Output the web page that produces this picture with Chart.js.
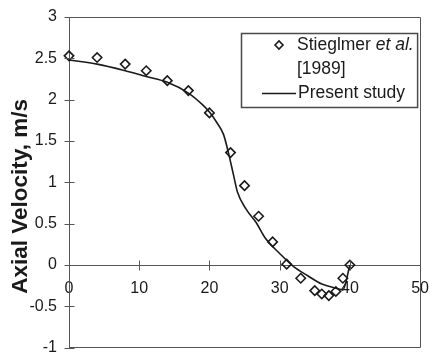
<!DOCTYPE html>
<html>
<head>
<meta charset="utf-8">
<script src="https://cdn.jsdelivr.net/npm/chart.js@4/dist/chart.umd.min.js"></script>
<style>
  html, body { margin: 0; padding: 0; background: #ffffff; }
  #wrap { width: 443px; height: 354px; }
</style>
</head>
<body>
<div id="wrap"><canvas id="chart" width="443" height="354"></canvas></div>
<script>
// Radial position and measured axial velocity (m/s)
const measuredX   = [0, 4, 8, 11, 14, 17, 20, 23, 25, 27, 29, 31, 33, 35, 36, 37, 38, 39, 40];
const measuredVel = [2.53, 2.51, 2.43, 2.35, 2.23, 2.11, 1.84, 1.36, 0.96, 0.59, 0.28, 0.01, -0.16, -0.31, -0.35, -0.37, -0.32, -0.16, 0.0];

// Computed axial velocity profile
const modelX   = [0, 4, 8, 11, 14, 17, 19, 20, 21, 22, 22.7, 23.4, 24, 25.2, 26.6, 28, 30, 32, 34, 36, 38, 39, 40];
const modelVel = [2.48, 2.43, 2.35, 2.28, 2.21, 2.08, 1.94, 1.85, 1.73, 1.58, 1.36, 1.10, 0.88, 0.68, 0.52, 0.32, 0.14, -0.02, -0.13, -0.23, -0.28, -0.30, 0.0];

// Axis ticks and labels
const xTicks = [0, 10, 20, 30, 40, 50];
const yTicks = [-1, -0.5, 0, 0.5, 1, 1.5, 2, 2.5, 3];
const yTitle = 'Axial Velocity, m/s';
const seriesNames = ['Stieglmer et al. [1989]', 'Present study'];

const FONT = '"Liberation Sans", Arial, Helvetica, sans-serif';
const INK = '#1a1a1a';
const AXIS = '#555555';

// Plot frame plus tick marks that cross both axes
const frameAndTicks = {
  id: 'frameAndTicks',
  afterDatasetsDraw(chart) {
    const { ctx, chartArea: a, scales: { x, y } } = chart;
    ctx.save();
    ctx.strokeStyle = AXIS;
    ctx.lineWidth = 1;
    const L = Math.round(a.left) + 0.5, R = Math.round(a.right) + 0.5;
    const T = Math.round(a.top) + 0.5, B = Math.round(a.bottom) - 0.5;
    ctx.beginPath();
    ctx.moveTo(L, T); ctx.lineTo(R, T); ctx.lineTo(R, B); ctx.lineTo(L, B);
    // y ticks
    yTicks.forEach(v => {
      const py = Math.round(y.getPixelForValue(v)) + 0.5;
      ctx.moveTo(L - 5, py); ctx.lineTo(L + 5, py);
    });
    // x ticks across the zero line
    const y0 = Math.round(y.getPixelForValue(0)) + 0.5;
    xTicks.forEach(v => {
      const px = Math.round(x.getPixelForValue(v)) + 0.5;
      ctx.moveTo(px, y0 - 5); ctx.lineTo(px, y0 + 5);
    });
    ctx.stroke();
    ctx.restore();
  }
};

// Rotated y-axis title
const axisTitle = {
  id: 'axisTitle',
  afterDraw(chart) {
    const { ctx, scales: { y } } = chart;
    ctx.save();
    ctx.font = 'bold 22.5px ' + FONT;
    ctx.fillStyle = INK;
    ctx.textAlign = 'center';
    ctx.textBaseline = 'alphabetic';
    ctx.translate(27, y.getPixelForValue(0.83));
    ctx.rotate(-Math.PI / 2);
    ctx.fillText(yTitle, 0, 0);
    ctx.restore();
  }
};

// Boxed legend with a two-line entry and italic "et al."
const boxLegend = {
  id: 'boxLegend',
  afterDraw(chart) {
    const { ctx, chartArea: a } = chart;
    const right = a.right - 2.5, left = 241.5, top = 33.5, bottom = 107.5;
    ctx.save();
    ctx.fillStyle = '#ffffff';
    ctx.fillRect(left, top, right - left, bottom - top);
    ctx.strokeStyle = '#4a4a4a';
    ctx.lineWidth = 1.5;
    ctx.strokeRect(left, top, right - left, bottom - top);

    const textX = 297;
    const rows = [45, 69, 93];
    const size = 17.5;
    ctx.fillStyle = INK;
    ctx.textBaseline = 'middle';
    ctx.textAlign = 'left';

    // marker for the measured series
    const mx = 279, my = rows[0], r = 4;
    ctx.strokeStyle = INK;
    ctx.lineWidth = 1.6;
    ctx.beginPath();
    ctx.moveTo(mx - r, my); ctx.lineTo(mx, my - r); ctx.lineTo(mx + r, my); ctx.lineTo(mx, my + r);
    ctx.closePath();
    ctx.stroke();

    const nameParts = seriesNames[0].split(' ');       // Stieglmer, et, al., [1989]
    ctx.font = size + 'px ' + FONT;
    const first = nameParts[0] + ' ';
    ctx.fillText(first, textX, my);
    const w = ctx.measureText(first).width;
    ctx.font = 'italic ' + size + 'px ' + FONT;
    ctx.fillText(nameParts[1] + ' ' + nameParts[2], textX + w, my);
    ctx.font = size + 'px ' + FONT;
    ctx.fillText(nameParts[3], textX, rows[1]);

    // line sample for the computed profile
    ctx.lineWidth = 1.6;
    ctx.beginPath();
    ctx.moveTo(262, rows[2] + 0.5); ctx.lineTo(296, rows[2] + 0.5);
    ctx.stroke();
    ctx.fillText(seriesNames[1], textX + 1, rows[2]);
    ctx.restore();
  }
};

const tickFont = { family: FONT, size: 16 };

new Chart(document.getElementById('chart'), {
  type: 'scatter',
  data: {
    datasets: [
      {
        label: seriesNames[1],
        data: modelX.map((x, i) => ({ x, y: modelVel[i] })),
        showLine: true,
        borderColor: INK,
        borderWidth: 1.6,
        pointRadius: 0,
        cubicInterpolationMode: 'monotone',
        fill: false,
        clip: false
      },
      {
        label: seriesNames[0],
        data: measuredX.map((x, i) => ({ x, y: measuredVel[i] })),
        showLine: false,
        pointStyle: 'rectRot',
        pointRadius: 4.7,
        pointBorderWidth: 1.6,
        pointBorderColor: INK,
        pointBackgroundColor: 'rgba(255,255,255,0)',
        clip: false
      }
    ]
  },
  options: {
    responsive: false,
    animation: false,
    devicePixelRatio: 1,
    layout: { padding: { left: 0, top: 17, right: 8, bottom: 5 } },
    plugins: { legend: { display: false }, tooltip: { enabled: false } },
    scales: {
      x: {
        type: 'linear',
        position: { y: 0 },
        min: 0, max: 50,
        afterBuildTicks: s => { s.ticks = xTicks.map(v => ({ value: v })); },
        afterFit: s => { s.height = 0; },
        grid: { display: false, drawTicks: false },
        border: { display: true, color: AXIS, width: 1 },
        ticks: { font: tickFont, color: INK, padding: 14, maxRotation: 0, autoSkip: false, callback: v => String(v) }
      },
      y: {
        type: 'linear',
        position: 'left',
        min: -1, max: 3,
        afterBuildTicks: s => { s.ticks = yTicks.map(v => ({ value: v })); },
        afterFit: s => { s.width = 69; s.paddingTop = 0; s.paddingBottom = 0; },
        grid: { display: false, drawTicks: false },
        border: { display: true, color: AXIS, width: 1 },
        ticks: { font: tickFont, color: INK, padding: 12, autoSkip: false, callback: v => String(v) }
      }
    }
  },
  plugins: [frameAndTicks, axisTitle, boxLegend]
});
</script>
</body>
</html>
